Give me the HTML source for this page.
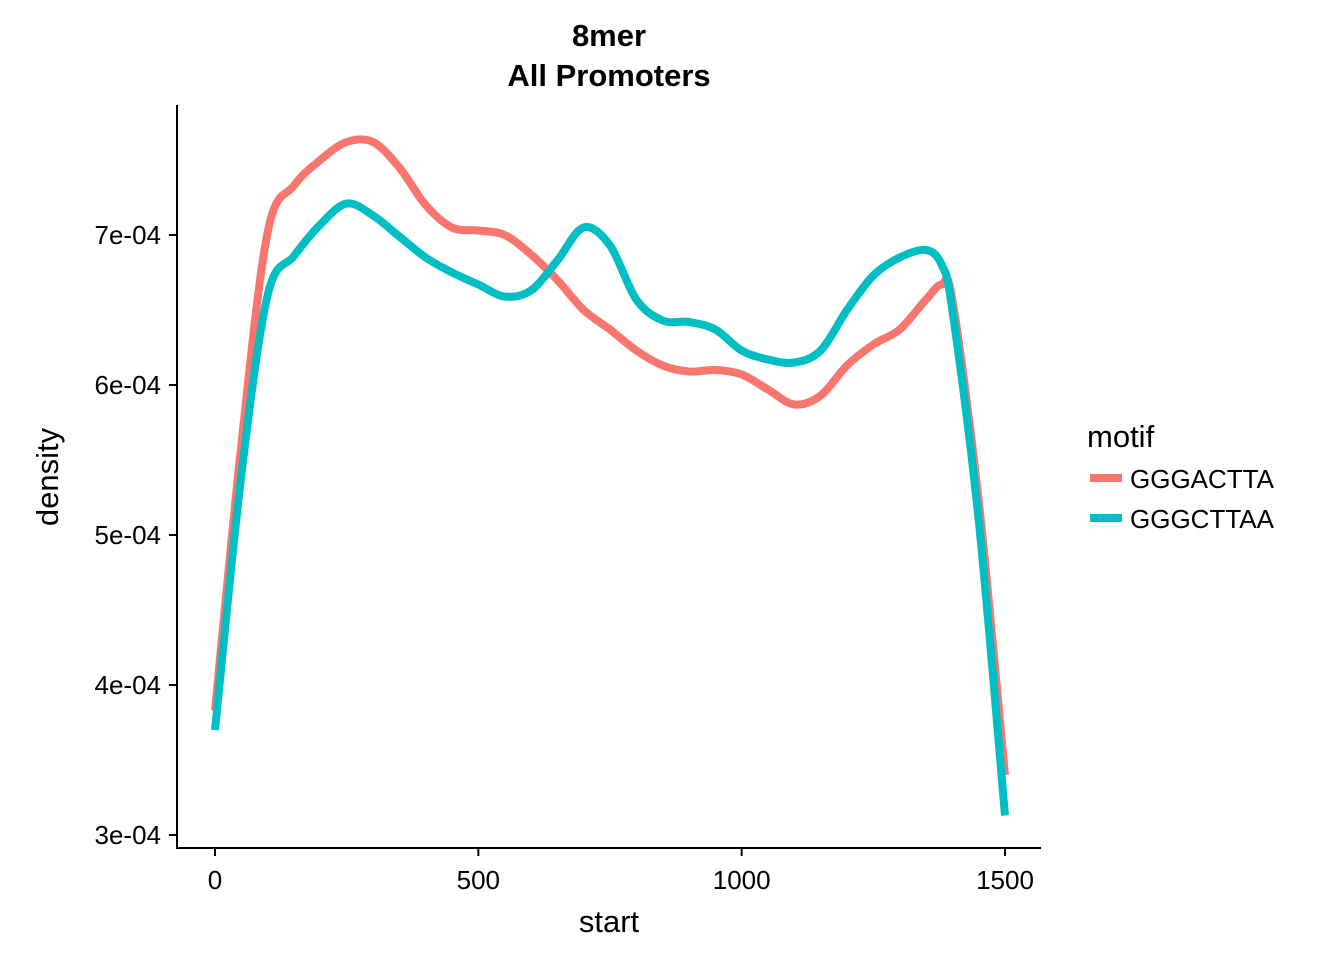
<!DOCTYPE html>
<html><head><meta charset="utf-8"><style>
body{margin:0;background:#fff;font-family:"Liberation Sans",sans-serif}
</style></head><body>
<svg width="1344" height="960" xmlns="http://www.w3.org/2000/svg">
<g id="chart" font-family="Liberation Sans, sans-serif"></g>
</svg>
<script>
const xs=[0,50,100,150,200,250,300,350,400,450,500,550,600,650,700,750,800,850,900,950,1000,1050,1100,1150,1200,1250,1300,1350,1380,1400,1450,1500];
const redVals=[3.83,5.6,7.02,7.33,7.5,7.62,7.62,7.45,7.2,7.05,7.03,7.0,6.87,6.7,6.5,6.37,6.23,6.13,6.09,6.1,6.07,5.97,5.87,5.93,6.13,6.27,6.37,6.57,6.67,6.57,5.23,3.4];
const tealVals=[3.7,5.4,6.6,6.86,7.07,7.21,7.13,6.99,6.85,6.75,6.67,6.59,6.63,6.83,7.05,6.93,6.57,6.43,6.42,6.37,6.23,6.17,6.15,6.23,6.5,6.73,6.85,6.9,6.8,6.5,5.1,3.13];
const xTicks=[0,500,1000,1500];
const yTicks=[3,4,5,6,7];
const yLabels=["3e-04","4e-04","5e-04","6e-04","7e-04"];
const seriesNames=["GGGACTTA","GGGCTTAA"];
const colors=["#F8766D","#00BFC4"];
const X=v=>215+v*790/1500, Y=v=>835-(v-3)*150;
const g=document.getElementById('chart'),NS="http://www.w3.org/2000/svg";
function mk(t,a,txt){const e=document.createElementNS(NS,t);for(const k in a)e.setAttribute(k,a[k]);if(txt!=null)e.textContent=txt;g.appendChild(e);return e;}
function path(vals){const p=xs.map((x,i)=>[X(x),Y(vals[i])]);let d=`M${p[0][0]},${p[0][1]}`;
for(let i=0;i<p.length-1;i++){const p0=p[Math.max(i-1,0)],p1=p[i],p2=p[i+1],p3=p[Math.min(i+2,p.length-1)];
d+=` C${p1[0]+(p2[0]-p0[0])/6},${p1[1]+(p2[1]-p0[1])/6} ${p2[0]-(p3[0]-p1[0])/6},${p2[1]-(p3[1]-p1[1])/6} ${p2[0]},${p2[1]}`;}return d;}
[redVals,tealVals].forEach((v,i)=>{const e=mk('path',{d:path(v),fill:'none',stroke:colors[i],'stroke-width':8});

});
let a=mk('line',{x1:177,y1:105,x2:177,y2:849,stroke:'#000','stroke-width':2});
a=mk('line',{x1:176,y1:848,x2:1041,y2:848,stroke:'#000','stroke-width':2});
xTicks.forEach(t=>{mk('line',{x1:X(t),y1:848,x2:X(t),y2:856,stroke:'#000','stroke-width':2});
const e=mk('text',{x:X(t),y:889,'text-anchor':'middle','font-size':26},t);});
yTicks.forEach((t,i)=>{mk('line',{x1:169,y1:Y(t),x2:177,y2:Y(t),stroke:'#000','stroke-width':2});
const e=mk('text',{x:161,y:Y(t)+9,'text-anchor':'end','font-size':26},yLabels[i]);});
let e=mk('text',{x:609,y:932,'text-anchor':'middle','font-size':31},'start');
e=mk('text',{x:58,y:477,'text-anchor':'middle','font-size':31,transform:'rotate(-90 58 477)'},'density');
e=mk('text',{x:609,y:46,'text-anchor':'middle','font-size':31,'font-weight':'bold'},'8mer');
e=mk('text',{x:609,y:86,'text-anchor':'middle','font-size':31,'font-weight':'bold'},'All Promoters');
e=mk('text',{x:1087,y:447,'font-size':31},'motif');
seriesNames.forEach((n,i)=>{const y=478+i*40;
const l=mk('line',{x1:1090,y1:y,x2:1122,y2:y,stroke:colors[i],'stroke-width':8});
const t=mk('text',{x:1130,y:y+10,'font-size':26},n);});
</script>
</body></html>
